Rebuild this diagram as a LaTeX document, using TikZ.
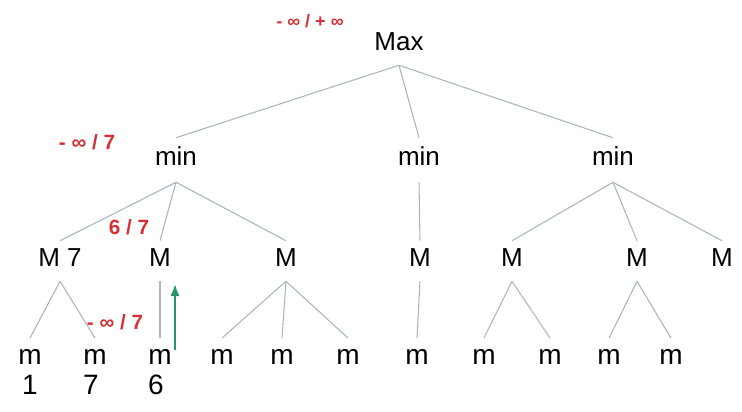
\documentclass[tikz,border=0pt]{standalone}
\usepackage{fontspec}
\setmainfont{Liberation Sans}
\usetikzlibrary{arrows.meta}
\definecolor{edgegray}{RGB}{168,182,192}
\definecolor{boundred}{RGB}{214,48,52}
\definecolor{pathgreen}{RGB}{38,150,102}
\begin{document}
\begin{tikzpicture}[x=0.75pt,y=-0.75pt,
    every node/.style={inner sep=0pt},
    lvl/.style={font=\fontsize{19.5}{22}\selectfont,text height=1.45ex,text depth=0pt,minimum height=30pt},
    leaf/.style={font=\fontsize{21}{24}\selectfont,text height=1ex,text depth=0pt,minimum height=34pt},
    bound/.style={text=boundred,font=\bfseries\fontsize{15.5}{18}\selectfont},
    edge/.style={draw=edgegray,line width=0.8pt}]
    \useasboundingbox (0,0) rectangle (742,411);
    % levels
    \node[lvl] (max) at (399,45) {Max};
    \node[lvl,minimum height=33pt] (mina) at (176,160) {min};
    \node[lvl,minimum height=33pt] (minb) at (419,160) {min};
    \node[lvl,minimum height=33pt] (minc) at (613,160) {min};
    \node[lvl] (Ma) at (60,261) {M 7};
    \node[lvl] (Mb) at (160,261) {M};
    \node[lvl] (Mc) at (286,261) {M};
    \node[lvl] (Md) at (420,261) {M};
    \node[lvl] (Me) at (512,261) {M};
    \node[lvl] (Mf) at (637,261) {M};
    \node[lvl] (Mg) at (722,261) {M};
    \foreach \n/\x in {ma/30,mb/95,mc/160,md/222,me/282,mf/348,mg/417,mh/484,mi/550,mj/609,mk/671}
        \node[leaf] (\n) at (\x,361) {m};
    \node[leaf] (va) at (30,391) {1};
    \node[leaf] (vb) at (91,391) {7};
    \node[leaf] (vc) at (156,391) {6};
    % alpha/beta bounds
    \node[bound,font=\bfseries\fontsize{13.5}{16}\selectfont] (abmax) at (310,21) {- ∞ / + ∞};
    \node[bound] (abmina) at (87,142) {- ∞ / 7};
    \node[bound] (abMb) at (129,227) {6 / 7};
    \node[bound] (abmb) at (115,322) {- ∞ / 7};
    % edges
    \foreach \c in {mina,minb,minc}
        \draw[edge] (max.south) -- (\c.north);
    \foreach \c in {Ma,Mb,Mc}
        \draw[edge] (mina.south) -- (\c.north);
    \draw[edge] (minb.south) -- (Md.north);
    \foreach \c in {Me,Mf,Mg}
        \draw[edge] (minc.south) -- (\c.north);
    \draw[edge] (Ma.south) -- (ma.north);
    \draw[edge] (Ma.south) -- (mb.north);
    \draw[edge] (Mb.south) -- (mc.north);
    \foreach \c in {md,me,mf}
        \draw[edge] (Mc.south) -- (\c.north);
    \draw[edge] (Md.south) -- (mg.north);
    \draw[edge] (Me.south) -- (mh.north);
    \draw[edge] (Me.south) -- (mi.north);
    \draw[edge] (Mf.south) -- (mj.north);
    \draw[edge] (Mf.south) -- (mk.north);
    % value passed up
    \coordinate (upa) at (175,350);
    \coordinate (upb) at (175,284);
    \draw[pathgreen,line width=1.6pt,-{Latex[length=9pt,width=7pt]}] (upa) -- (upb);
\end{tikzpicture}
\end{document}
